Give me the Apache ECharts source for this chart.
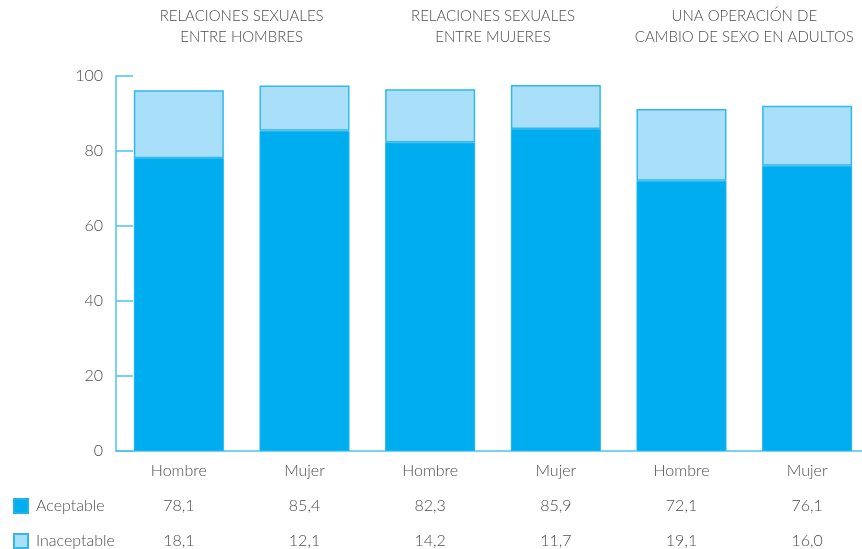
<!DOCTYPE html>
<html lang="es">
<head>
<meta charset="UTF-8">
<title>Aceptabilidad</title>
<script src="https://cdn.jsdelivr.net/npm/echarts@6/dist/echarts.min.js"></script>
<style>
  html, body { margin: 0; padding: 0; background: #fff; }
  #chart { width: 862px; height: 549px; }
</style>
</head>
<body>
<div id="chart"></div>
<script>
var categories = ['Hombre', 'Mujer', 'Hombre', 'Mujer', 'Hombre', 'Mujer'];
var groups = ['RELACIONES SEXUALES\nENTRE HOMBRES', 'RELACIONES SEXUALES\nENTRE MUJERES', 'UNA OPERACIÓN DE\nCAMBIO DE SEXO EN ADULTOS'];
var aceptable = [78.1, 85.4, 82.3, 85.9, 72.1, 76.1];
var inaceptable = [18.1, 12.1, 14.2, 11.7, 19.1, 16.0];

var font = 'Lato';
var textColor = '#4d4d4d';
var lineColor = '#4cc3f0';

function fmt(v) { return v.toFixed(1).replace('.', ','); }

var labelStyle = { color: textColor, fontSize: 16, fontFamily: font, fontWeight: 300, margin: 12, interval: 0 };

function legendItem(name, top) {
    return {
        orient: 'vertical', left: 8, top: top,
        itemWidth: 14, itemHeight: 14, icon: 'rect',
        textStyle: { fontFamily: font, fontWeight: 300, fontSize: 16, color: textColor, padding: [0, 0, 0, 3] },
        data: [name]
    };
}

var myChart = echarts.init(document.getElementById('chart'));

var option = {
    animation: false,
    textStyle: { fontFamily: font, fontWeight: 300 },
    grid: { left: 116, top: 76, height: 375, width: 754, outerBoundsMode: 'none', containLabel: false },
    legend: [legendItem('Aceptable', 493), legendItem('Inaceptable', 528)],
    xAxis: [
        {
            type: 'category', data: categories, position: 'bottom',
            axisLine: { lineStyle: { color: lineColor, width: 1.5 } },
            axisTick: { show: false },
            axisLabel: labelStyle
        },
        {
            type: 'category', data: aceptable.map(fmt), position: 'bottom', offset: 35,
            axisLine: { show: false }, axisTick: { show: false },
            axisLabel: labelStyle
        },
        {
            type: 'category', data: inaceptable.map(fmt), position: 'bottom', offset: 70,
            axisLine: { show: false }, axisTick: { show: false },
            axisLabel: labelStyle
        },
        {
            type: 'category', data: groups, position: 'top',
            axisLine: { show: false }, axisTick: { show: false },
            axisLabel: { color: textColor, fontSize: 15, fontFamily: font, fontWeight: 300, margin: 28, lineHeight: 21, interval: 0 }
        }
    ],
    yAxis: {
        type: 'value', min: 0, max: 100, interval: 20,
        axisLine: { show: true, lineStyle: { color: lineColor, width: 1.5 } },
        axisTick: { show: true, inside: true, length: 17, lineStyle: { color: lineColor, width: 1.5 } },
        splitLine: { show: false },
        axisLabel: { color: textColor, fontSize: 16, fontFamily: font, fontWeight: 300, margin: 13 }
    },
    series: [
        {
            name: 'Aceptable', type: 'bar', stack: 'total', barWidth: 90,
            itemStyle: { color: '#00aeef', borderColor: '#1fb2ee', borderWidth: 1 },
            data: aceptable
        },
        {
            name: 'Inaceptable', type: 'bar', stack: 'total', barWidth: 90,
            itemStyle: { color: '#aadff9', borderColor: '#30b8ef', borderWidth: 1.5 },
            data: inaceptable
        }
    ]
};

myChart.setOption(option);
</script>
</body>
</html>
